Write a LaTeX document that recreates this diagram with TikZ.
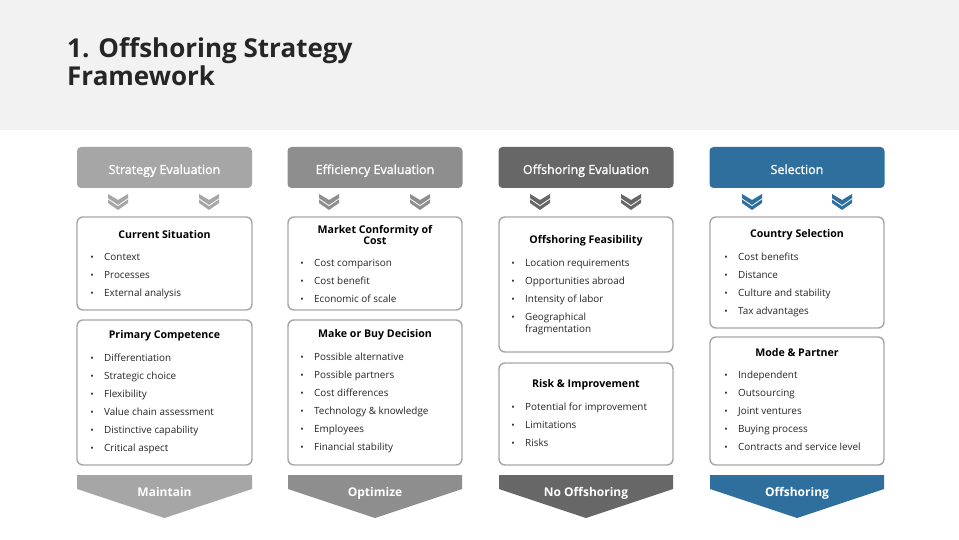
\documentclass[tikz,border=0pt]{standalone}
\usepackage{fontspec}
\setmainfont{Open Sans}
\newfontfamily\semib[FakeBold=1.3]{Open Sans}
\definecolor{bandgray}{HTML}{F2F2F2}
\definecolor{cA}{HTML}{A6A6A6}
\definecolor{cB}{HTML}{8E8E8E}
\definecolor{cC}{HTML}{676767}
\definecolor{cD}{HTML}{2E6F9E}
\definecolor{txt}{HTML}{262626}
\definecolor{boxline}{HTML}{A6A6A6}
\tikzset{
  hdr/.style={minimum width=175pt, minimum height=41pt, rounded corners=4pt, inner sep=0pt},
  hdrtext/.style={anchor=base, text=white, font=\semib\fontsize{12.5}{14}\selectfont, inner sep=0pt},
  cbox/.style={draw=boxline, line width=1.4pt, rounded corners=6pt, fill=white},
  bhead/.style={font=\fontsize{10.6}{12}\selectfont\bfseries, text=black, align=center, inner sep=0pt},
  bul/.style={anchor=base, font=\fontsize{9}{10}\selectfont, text=txt, inner sep=0pt},
  itm/.style={anchor=base west, font=\fontsize{9.9}{11.5}\selectfont, text=txt, inner sep=0pt, align=left},
  outl/.style={anchor=base, text=white, font=\fontsize{12}{14}\selectfont\bfseries, inner sep=0pt},
}
\newcommand\blist[4]{%
  \foreach \t [count=\i from 0] in {#4} {
    \node[bul] (#1b\i) at (#2, #3+3.5+18*\i) {\textbullet};
    \node[itm] (#1t\i) at (#2+12, #3+3.5+18*\i) {\t};
  }}
\newcommand\chevron[3]{%
  \fill[#3] (#1-10,#2-8) -- (#1,#2-2) -- (#1+10,#2-8) -- (#1+10,#2+1) -- (#1,#2+8) -- (#1-10,#2+1) -- cycle;
  \draw[white, line width=0.8pt] (#1-10,#2-3.2) -- (#1,#2+3.6) -- (#1+10,#2-3.2);}
\newcommand\outarrow[3]{% #1 left x, #2 right x, #3 color
  \fill[#3] (#1,475) -- (#2,475) -- (#2,489) -- ({(#1+#2)/2},518) -- (#1,489) -- cycle;}
\begin{document}
\begin{tikzpicture}[x=1pt, y=-1pt]
\useasboundingbox (0,0) rectangle (959,540);
\fill[white] (0,0) rectangle (959,540);
\fill[bandgray] (0,0) rectangle (959,130);
\node[anchor=base west, align=left, text=txt, font=\fontsize{26}{28}\selectfont\bfseries, inner sep=0pt] (title) at (67,86) {1. Offshoring Strategy\\Framework};

% headers
\node[hdr, fill=cA] (h1) at (164.5,167.5) {};
\node[hdr, fill=cB] (h2) at (375,167.5) {};
\node[hdr, fill=cC] (h3) at (586,167.5) {};
\node[hdr, fill=cD] (h4) at (797,167.5) {};
\node[hdrtext] (h1t) at (164.5,174) {Strategy Evaluation};
\node[hdrtext] (h2t) at (375,174) {Efficiency Evaluation};
\node[hdrtext] (h3t) at (586,174) {Offshoring Evaluation};
\node[hdrtext] (h4t) at (797,174) {Selection};

% chevrons
\chevron{118}{202}{cA}\chevron{209}{202}{cA}
\chevron{329}{202}{cB}\chevron{420}{202}{cB}
\chevron{540}{202}{cC}\chevron{631}{202}{cC}
\chevron{752}{202}{cD}\chevron{842}{202}{cD}

% boxes column 1
\draw[cbox] (77,217) rectangle (252,310);
\draw[cbox] (77,320) rectangle (252,465);
% column 2
\draw[cbox] (288,217) rectangle (462,310);
\draw[cbox] (288,320) rectangle (462,465);
% column 3
\draw[cbox] (499,217) rectangle (673,352);
\draw[cbox] (499,363) rectangle (673,465);
% column 4
\draw[cbox] (710,217) rectangle (884,328);
\draw[cbox] (710,337) rectangle (884,465);

% column 1 text
\node[bhead] (c1h) at (164.5,235) {Current Situation};
\blist{c1a}{92}{257}{Context,Processes,External analysis}
\node[bhead] (c2h) at (164.5,336) {Primary Competence};
\blist{c1c}{92}{358}{Differentiation,Strategic choice,Flexibility,Value chain assessment,Distinctive capability,Critical aspect}

% column 2 text
\node[bhead] (c2ah) at (375,235) {Market Conformity of\\[-1pt]Cost};
\blist{c2a}{302}{263}{Cost comparison,Cost benefit,Economic of scale}
\node[bhead] (c2ch) at (375,335) {Make or Buy Decision};
\blist{c2c}{302}{357}{Possible alternative,Possible partners,Cost differences,Technology \& knowledge,Employees,Financial stability}

% column 3 text
\node[bhead] (c3ah) at (586,241) {Offshoring Feasibility};
\blist{c3a}{513}{263}{Location requirements,Opportunities abroad,Intensity of labor}
\node[bul] (c3ab3) at (513,320.5) {\textbullet};
\node[itm] (c3at3) at (525,320.5) {Geographical};
\node[itm] (c3at4) at (525,332.5) {fragmentation};
\node[bhead] (c3ch) at (586,385) {Risk \& Improvement};
\blist{c3c}{513}{407}{Potential for improvement,Limitations,Risks}

% column 4 text
\node[bhead] (c4ah) at (797,235) {Country Selection};
\blist{c4a}{726}{257}{Cost benefits,Distance,Culture and stability,Tax advantages}
\node[bhead] (c4ch) at (797,353) {Mode \& Partner};
\blist{c4c}{726}{375}{Independent,Outsourcing,Joint ventures,Buying process,Contracts and service level}

% outcome arrows
\outarrow{77}{252}{cA}
\outarrow{288}{462}{cB}
\outarrow{499}{673}{cC}
\outarrow{710}{884}{cD}
\node[outl] (o1) at (164.5,496.5) {Maintain};
\node[outl] (o2) at (375,496.5) {Optimize};
\node[outl] (o3) at (586,496.5) {No Offshoring};
\node[outl] (o4) at (797,496.5) {Offshoring};
\end{tikzpicture}
\end{document}
